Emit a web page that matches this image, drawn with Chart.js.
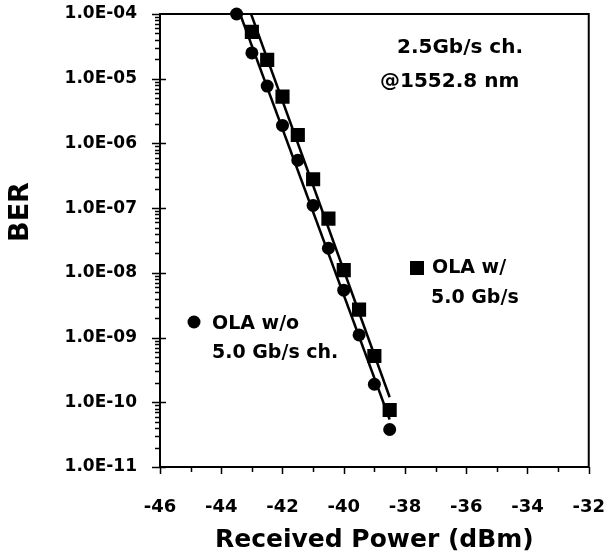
<!DOCTYPE html>
<html>
<head>
<meta charset="utf-8">
<script src="https://cdn.jsdelivr.net/npm/chart.js@4"></script>
<style>
  html, body { margin: 0; padding: 0; background: #ffffff; }
</style>
</head>
<body>
<canvas id="canvas" width="607" height="559"></canvas>
<script>
"use strict";

// OLA w/o 5.0 Gb/s ch. (circles)
const power_wo = [-43.5, -43, -42.5, -42, -41.5, -41, -40.5, -40, -39.5, -39, -38.5];
const ber_wo = [1.0e-4, 2.5e-5, 7.7e-6, 1.9e-6, 5.5e-7, 1.1e-7, 2.4e-8, 5.4e-9, 1.1e-9, 1.9e-10, 3.8e-11];

// OLA w/ 5.0 Gb/s (squares)
const power_w = [-43, -42.5, -42, -41.5, -41, -40.5, -40, -39.5, -39, -38.5];
const ber_w = [5.3e-5, 1.95e-5, 5.3e-6, 1.35e-6, 2.8e-7, 6.9e-8, 1.1e-8, 2.7e-9, 5.2e-10, 7.6e-11];

const x_min = -46;
const x_max = -32;
const y_min = 1e-11;
const y_max = 1e-4;

const FONT = "'DejaVu Sans', sans-serif";

const canvas = document.getElementById("canvas");
const ctx = canvas.getContext("2d");

const toPoints = (xs, ys) => xs.map((x, i) => ({ x: x, y: ys[i] }));

// least squares of log10(BER) against power, like the straight fits in the figure
const fitLog = (xs, ys) => {
  const ls = ys.map((v) => Math.log10(v));
  const n = xs.length;
  const mx = xs.reduce((a, b) => a + b, 0) / n;
  const my = ls.reduce((a, b) => a + b, 0) / n;
  let sxy = 0;
  let sxx = 0;
  for (let i = 0; i < n; i++) {
    sxy += (xs[i] - mx) * (ls[i] - my);
    sxx += (xs[i] - mx) * (xs[i] - mx);
  }
  const m = sxy / sxx;
  return { m: m, b: my - m * mx };
};

const fitLine = (xs, ys) => {
  const f = fitLog(xs, ys);
  const xTop = (Math.log10(y_max) - f.b) / f.m;
  const xEnd = xs[xs.length - 1];
  return [
    { x: xTop, y: y_max },
    { x: xEnd, y: Math.pow(10, f.m * xEnd + f.b) },
  ];
};

const isDecade = (v) => {
  const e = Math.log10(v);
  return Math.abs(e - Math.round(e)) < 1e-6;
};

// frame + tick marks
const frameTicks = {
  id: "frameTicks",
  beforeDatasetsDraw(chart) {
    const { ctx, chartArea, scales } = chart;
    const { left, right, top, bottom } = chartArea;
    ctx.save();
    ctx.strokeStyle = "#000000";
    ctx.lineWidth = 2;
    ctx.strokeRect(left, top, right - left, bottom - top);

    ctx.lineWidth = 1.5;
    ctx.beginPath();
    // y ticks
    for (let e = Math.log10(y_min); e < Math.log10(y_max); e++) {
      for (let k = 1; k < 10; k++) {
        const py = Math.round(scales.y.getPixelForValue(k * Math.pow(10, e))) + 0.5;
        if (k == 1) {
          ctx.moveTo(left - 8, py);
          ctx.lineTo(left + 6, py);
        } else {
          ctx.moveTo(left - 5, py);
          ctx.lineTo(left, py);
        }
      }
    }
    const pTop = Math.round(scales.y.getPixelForValue(y_max)) + 0.5;
    ctx.moveTo(left - 8, pTop);
    ctx.lineTo(left, pTop);
    // x ticks
    for (let v = x_min; v <= x_max; v++) {
      const px = Math.round(scales.x.getPixelForValue(v)) + 0.5;
      ctx.moveTo(px, bottom);
      ctx.lineTo(px, bottom + (v % 2 == 0 ? 7 : 5));
    }
    ctx.stroke();
    ctx.restore();
  },
};

// BER title and the in-plot notes
const notes = {
  id: "notes",
  afterDraw(chart) {
    const { ctx } = chart;
    ctx.save();
    ctx.fillStyle = "#000000";

    ctx.save();
    ctx.translate(21, 212);
    ctx.rotate(-Math.PI / 2);
    ctx.font = "bold 27px " + FONT;
    ctx.textAlign = "center";
    ctx.textBaseline = "middle";
    ctx.fillText("BER", 0, 0);
    ctx.restore();

    ctx.textAlign = "left";
    ctx.textBaseline = "middle";
    ctx.font = "bold 20px " + FONT;
    ctx.fillText("2.5Gb/s ch.", 397, 48);
    ctx.fillText("@1552.8 nm", 380, 82);

    ctx.font = "bold 19px " + FONT;
    ctx.beginPath();
    ctx.arc(194, 322, 6.5, 0, Math.PI * 2);
    ctx.fill();
    ctx.fillText("OLA w/o", 212, 324);
    ctx.fillText("5.0 Gb/s ch.", 212, 353);

    ctx.fillRect(410, 261, 14, 14);
    ctx.fillText("OLA w/", 432, 268);
    ctx.fillText("5.0 Gb/s", 431, 298);
    ctx.restore();
  },
};

const data = {
  datasets: [
    {
      label: "OLA w/o 5.0 Gb/s ch.",
      data: toPoints(power_wo, ber_wo),
      pointStyle: "circle",
      pointRadius: 6.5,
      pointBackgroundColor: "#000000",
      pointBorderWidth: 0,
      showLine: false,
      clip: false,
      order: 0,
    },
    {
      label: "OLA w/ 5.0 Gb/s",
      data: toPoints(power_w, ber_w),
      pointStyle: "rect",
      pointRadius: 10,
      pointBackgroundColor: "#000000",
      pointBorderWidth: 0,
      showLine: false,
      order: 0,
    },
    {
      label: "fit w/o",
      data: fitLine(power_wo, ber_wo),
      showLine: true,
      borderColor: "#000000",
      borderWidth: 2.5,
      pointRadius: 0,
      order: 1,
    },
    {
      label: "fit w/",
      data: fitLine(power_w, ber_w),
      showLine: true,
      borderColor: "#000000",
      borderWidth: 2.5,
      pointRadius: 0,
      order: 1,
    },
  ],
};

const config = {
  type: "scatter",
  data: data,
  plugins: [frameTicks, notes],
  options: {
    responsive: false,
    animation: false,
    devicePixelRatio: 1,
    layout: {
      padding: { top: 14, right: 16, left: 0, bottom: 0 },
    },
    plugins: {
      legend: { display: false },
      tooltip: { enabled: false },
    },
    scales: {
      x: {
        type: "linear",
        min: x_min,
        max: x_max,
        border: { display: false },
        // grid hidden; its tickLength only pushes the labels down
        grid: { display: false, drawTicks: true, tickLength: 28 },
        ticks: {
          stepSize: 2,
          padding: 2,
          color: "#000000",
          font: { family: FONT, size: 18, weight: "bold" },
          callback: (v) => String(v),
        },
        title: {
          display: true,
          text: "Received Power (dBm)",
          color: "#000000",
          font: { family: FONT, size: 25, weight: "bold" },
          padding: { top: 0, bottom: 4 },
        },
        afterFit: (scale) => {
          scale.height = 92;
        },
      },
      y: {
        type: "logarithmic",
        min: y_min,
        max: y_max,
        border: { display: false },
        grid: { display: false, drawTicks: true, tickLength: 21 },
        ticks: {
          autoSkip: false,
          padding: 2,
          color: "#000000",
          font: { family: FONT, size: 17, weight: "bold" },
          callback: (v) => {
            if (!isDecade(v)) {
              return "";
            }
            const e = Math.round(Math.log10(v));
            return "1.0E-" + String(-e).padStart(2, "0");
          },
        },
        afterFit: (scale) => {
          scale.width = 160;
        },
      },
    },
  },
};

const berChart = new Chart(ctx, config);
</script>
</body>
</html>
